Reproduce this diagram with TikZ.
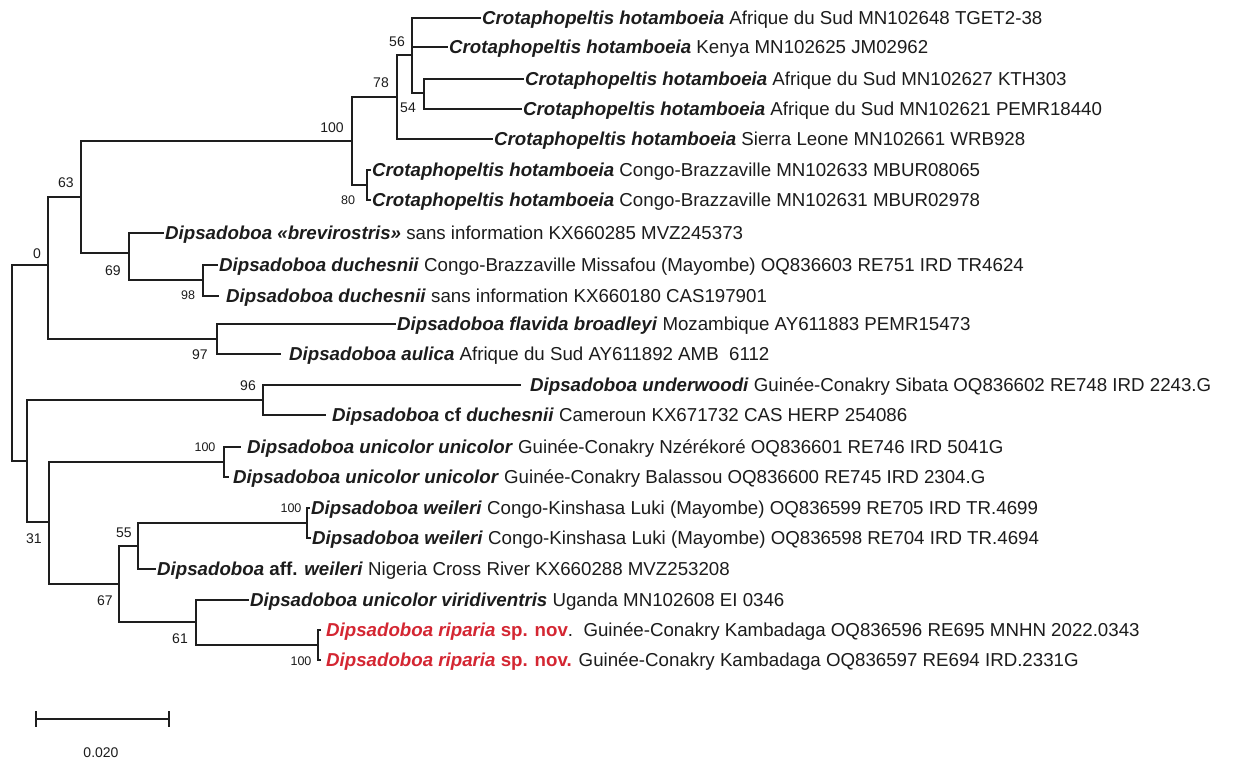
\documentclass[tikz,border=0pt]{standalone}
\usepackage{fontspec}
\setmainfont{Liberation Sans}
\definecolor{txt}{RGB}{28,28,28}
\definecolor{lin}{RGB}{30,30,30}
\definecolor{rip}{RGB}{212,38,50}
\newcommand{\bi}[1]{\textbf{\textit{#1}}}
\begin{document}
\begin{tikzpicture}[x=1pt,y=-1pt,
  br/.style={draw=lin,line width=1.5pt,line cap=rect},
  tip/.style={anchor=west,inner xsep=2pt,inner ysep=0pt,text height=13.4pt,text depth=0pt,
    font=\fontsize{18.7}{20}\selectfont,text=txt},
  bs/.style={inner sep=0pt,font=\fontsize{14}{16}\selectfont,text=txt},
  bss/.style={inner sep=0pt,font=\fontsize{12.5}{14}\selectfont,text=txt}]
\useasboundingbox (0,0) rectangle (1237,760);
\fill[white] (0,0) rectangle (1237,760);
% internal nodes
\coordinate (root) at (12,363);
\coordinate (A) at (48,265);
\coordinate (C) at (81,197);
\coordinate (Cr) at (352,141);
\coordinate (D) at (397,97);
\coordinate (E) at (412,55);
\coordinate (F) at (424,93);
\coordinate (G) at (367,185);
\coordinate (H) at (129,253);
\coordinate (I) at (203,280);
\coordinate (J) at (217,339);
\coordinate (K) at (27,461);
\coordinate (M) at (263,400);
\coordinate (L) at (49,522);
\coordinate (N) at (224,462);
\coordinate (O) at (119,584);
\coordinate (P) at (138,546);
\coordinate (R) at (307,523);
\coordinate (Q) at (196,622);
\coordinate (S) at (318,645);
% tips
\node[tip] (t1) at (480,18) {\bi{Crotaphopeltis hotamboeia} Afrique du Sud MN102648 TGET2-38};
\node[tip] (t2) at (447,47) {\bi{Crotaphopeltis hotamboeia} Kenya MN102625 JM02962};
\node[tip] (t3) at (523,79) {\bi{Crotaphopeltis hotamboeia} Afrique du Sud MN102627 KTH303};
\node[tip] (t4) at (521,109) {\bi{Crotaphopeltis hotamboeia} Afrique du Sud MN102621 PEMR18440};
\node[tip] (t5) at (492,139) {\bi{Crotaphopeltis hotamboeia} Sierra Leone MN102661 WRB928};
\node[tip] (t6) at (370,170) {\bi{Crotaphopeltis hotamboeia} Congo-Brazzaville MN102633 MBUR08065};
\node[tip] (t7) at (370,200) {\bi{Crotaphopeltis hotamboeia} Congo-Brazzaville MN102631 MBUR02978};
\node[tip] (t8) at (163,233) {\bi{Dipsadoboa «brevirostris»} sans information KX660285 MVZ245373};
\node[tip] (t9) at (217,265) {\bi{Dipsadoboa duchesnii} Congo-Brazzaville Missafou (Mayombe) OQ836603 RE751 IRD TR4624};
\node[tip] (t10) at (224,296) {\bi{Dipsadoboa duchesnii} sans information KX660180 CAS197901};
\node[tip] (t11) at (395,324) {\bi{Dipsadoboa flavida broadleyi} Mozambique AY611883 PEMR15473};
\node[tip] (t12) at (287,354) {\bi{Dipsadoboa aulica} Afrique du Sud AY611892 AMB\ \ 6112};
\node[tip] (t13) at (528,385) {\bi{Dipsadoboa underwoodi} Guinée-Conakry Sibata OQ836602 RE748 IRD 2243.G};
\node[tip] (t14) at (330,415) {\bi{Dipsadoboa} \textbf{cf} \bi{duchesnii} Cameroun KX671732 CAS HERP 254086};
\node[tip] (t15) at (245,447) {\bi{Dipsadoboa unicolor unicolor} Guinée-Conakry Nzérékoré OQ836601 RE746 IRD 5041G};
\node[tip] (t16) at (231,477) {\bi{Dipsadoboa unicolor unicolor} Guinée-Conakry Balassou OQ836600 RE745 IRD 2304.G};
\node[tip] (t17) at (309,508) {\bi{Dipsadoboa weileri} Congo-Kinshasa Luki (Mayombe) OQ836599 RE705 IRD TR.4699};
\node[tip] (t18) at (310,538) {\bi{Dipsadoboa weileri} Congo-Kinshasa Luki (Mayombe) OQ836598 RE704 IRD TR.4694};
\node[tip] (t19) at (155,569) {\bi{Dipsadoboa} \textbf{aff.} \bi{weileri} Nigeria Cross River KX660288 MVZ253208};
\node[tip] (t20) at (248,600) {\bi{Dipsadoboa unicolor viridiventris} Uganda MN102608 EI 0346};
\node[tip] (t21) at (324,630) {{\color{rip}\bi{Dipsadoboa riparia} \textbf{sp. nov}}.\ \ Guinée-Conakry Kambadaga OQ836596 RE695 MNHN 2022.0343};
\node[tip] (t22) at (324,660) {{\color{rip}\bi{Dipsadoboa riparia} \textbf{sp. nov.}} Guinée-Conakry Kambadaga OQ836597 RE694 IRD.2331G};
% branches
\draw[br] (root) |- (A);
\draw[br] (root) |- (K);
\draw[br] (A) |- (C);
\draw[br] (A) |- (J);
\draw[br] (C) |- (Cr);
\draw[br] (C) |- (H);
\draw[br] (Cr) |- (D);
\draw[br] (Cr) |- (G);
\draw[br] (D) |- (E);
\draw[br] (D) |- (t5.west);
\draw[br] (E) |- (t1.west);
\draw[br] (E) |- (t2.west);
\draw[br] (E) |- (F);
\draw[br] (F) |- (t3.west);
\draw[br] (F) |- (t4.west);
\draw[br] (G) |- (t6.west);
\draw[br] (G) |- (t7.west);
\draw[br] (H) |- (t8.west);
\draw[br] (H) |- (I);
\draw[br] (I) |- (t9.west);
\draw[br,shorten >=6pt] (I) |- (t10.west);
\draw[br] (J) |- (t11.west);
\draw[br,shorten >=7pt] (J) |- (t12.west);
\draw[br] (K) |- (M);
\draw[br] (K) |- (L);
\draw[br,shorten >=8pt] (M) |- (t13.west);
\draw[br,shorten >=5pt] (M) |- (t14.west);
\draw[br] (L) |- (N);
\draw[br] (L) |- (O);
\draw[br,shorten >=5pt] (N) |- (t15.west);
\draw[br,shorten >=3pt] (N) |- (t16.west);
\draw[br] (O) |- (P);
\draw[br] (O) |- (Q);
\draw[br] (P) |- (R);
\draw[br] (P) |- (t19.west);
\draw[br] (R) |- (t17.west);
\draw[br] (R) |- (t18.west);
\draw[br] (Q) |- (t20.west);
\draw[br] (Q) |- (S);
\draw[br,shorten >=4pt] (S) |- (t21.west);
\draw[br,shorten >=4pt] (S) |- (t22.west);
% bootstrap values
\node[bs] (b56) at (397,42) {56};
\node[bs] (b78) at (381,83) {78};
\node[bs] (b54) at (408,108) {54};
\node[bs] (b100a) at (332,128) {100};
\node[bss] (b80) at (348,200) {80};
\node[bs] (b63) at (66,183) {63};
\node[bs] (b0) at (37,254) {0};
\node[bs] (b69) at (113,271) {69};
\node[bss] (b98) at (188,295) {98};
\node[bs] (b97) at (200,355) {97};
\node[bs] (b96) at (248,386) {96};
\node[bss] (b100b) at (205,447) {100};
\node[bs] (b31) at (34,539) {31};
\node[bs] (b55) at (124,533) {55};
\node[bss] (b100c) at (291,508) {100};
\node[bs] (b67) at (105,601) {67};
\node[bs] (b61) at (180,639) {61};
\node[bss] (b100d) at (301,661) {100};
% scale bar
\coordinate (sb1) at (36,719);
\coordinate (sb2) at (169,719);
\draw[br] (sb1) -- (sb2);
\draw[br] ([yshift=-7pt]sb1) -- ([yshift=7pt]sb1);
\draw[br] ([yshift=-7pt]sb2) -- ([yshift=7pt]sb2);
\node[bs] (sblab) at (101,753) {0.020};
\end{tikzpicture}
\end{document}
